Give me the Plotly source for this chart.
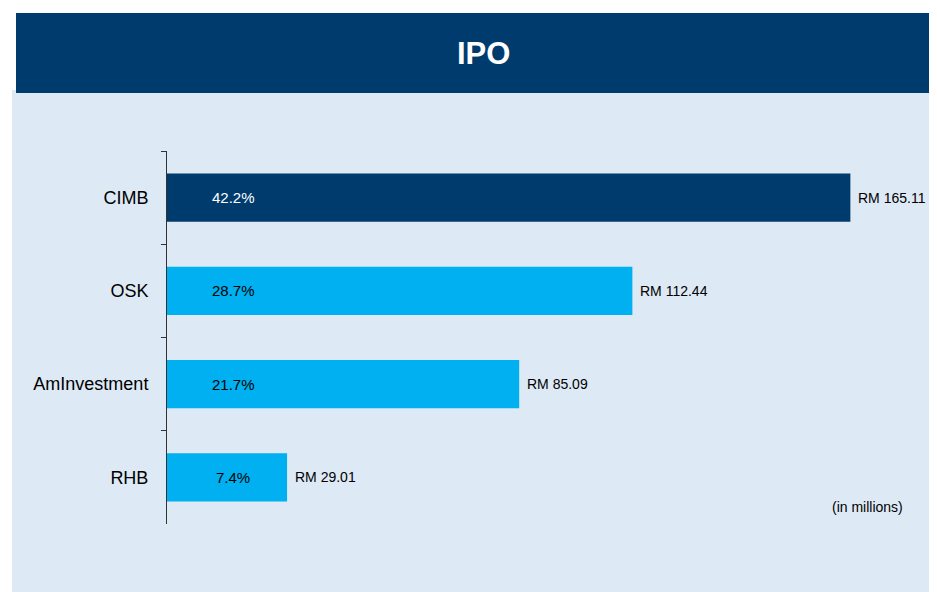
import plotly.graph_objects as go

categories = ["CIMB", "OSK", "AmInvestment", "RHB"]
values = [165.11, 112.44, 85.09, 29.01]
shares = ["42.2%", "28.7%", "21.7%", "7.4%"]
value_labels = ["RM 165.11", "RM 112.44", "RM 85.09", "RM 29.01"]
bar_colors = ["#003B6D", "#00B0F0", "#00B0F0", "#00B0F0"]
share_colors = ["white", "black", "black", "black"]

OFF = 8  # page body margin
W, H = 937, 592
L, R, T, B = 167 - OFF, 912 - OFF, 151 - OFF, 524 - OFF  # plot area pixels (figure coords)

def px(x):
    return (x - OFF - L) / (R - L)

def py(y):
    return (B - (y - OFF)) / (B - T)

FONT = "Liberation Sans Narrow, Liberation Sans, Arial, sans-serif"

fig = go.Figure()
fig.add_trace(go.Bar(
    y=categories, x=values, orientation="h",
    marker=dict(color=bar_colors, line=dict(width=0)),
    width=0.52,
    cliponaxis=False, hoverinfo="skip",
))

for cat, v, lab in zip(categories, values, value_labels):
    fig.add_annotation(x=v, y=cat, xref="x", yref="y", text=lab, showarrow=False,
                       xanchor="left", xshift=6,
                       font=dict(family=FONT, size=14, color="black"))

for cat, s, c in zip(categories, shares, share_colors):
    fig.add_annotation(x=16, y=cat, xref="x", yref="y", text=s, showarrow=False,
                       font=dict(family=FONT, size=15, color=c), xanchor="center")

fig.add_annotation(x=px(905), y=py(507), xref="paper", yref="paper", text="(in millions)",
                   showarrow=False, xanchor="right", yanchor="middle",
                   font=dict(family=FONT, size=14, color="black"))

fig.add_annotation(x=px(483), y=py(53), xref="paper", yref="paper", text="<b>IPO</b>",
                   showarrow=False, xanchor="center", yanchor="middle",
                   font=dict(family="Liberation Sans, Arial, sans-serif", size=31, color="white"))

fig.add_shape(type="rect", xref="paper", yref="paper", x0=px(12), x1=px(960), y0=py(90), y1=py(620),
              fillcolor="#DDE9F5", line=dict(width=0), layer="below")
fig.add_shape(type="rect", xref="paper", yref="paper", x0=px(16), x1=px(935), y0=py(13), y1=py(93),
              fillcolor="#003B6D", line=dict(width=0), layer="below")

fig.update_layout(
    width=W, height=H,
    margin=dict(l=L, r=W - R, t=T, b=H - B, pad=0),
    paper_bgcolor="white", plot_bgcolor="rgba(0,0,0,0)",
    showlegend=False,
    xaxis=dict(range=[0, 180], visible=False, showgrid=False, zeroline=False),
    yaxis=dict(categoryorder="array", categoryarray=categories, autorange="reversed",
               tickson="boundaries", ticks="outside", ticklen=5, tickcolor="#333333",
               showline=True, linecolor="#333333", linewidth=1,
               showgrid=False, zeroline=False, ticklabelstandoff=14,
               tickfont=dict(family=FONT, size=18, color="black")),
)

fig.write_html("out.html")
